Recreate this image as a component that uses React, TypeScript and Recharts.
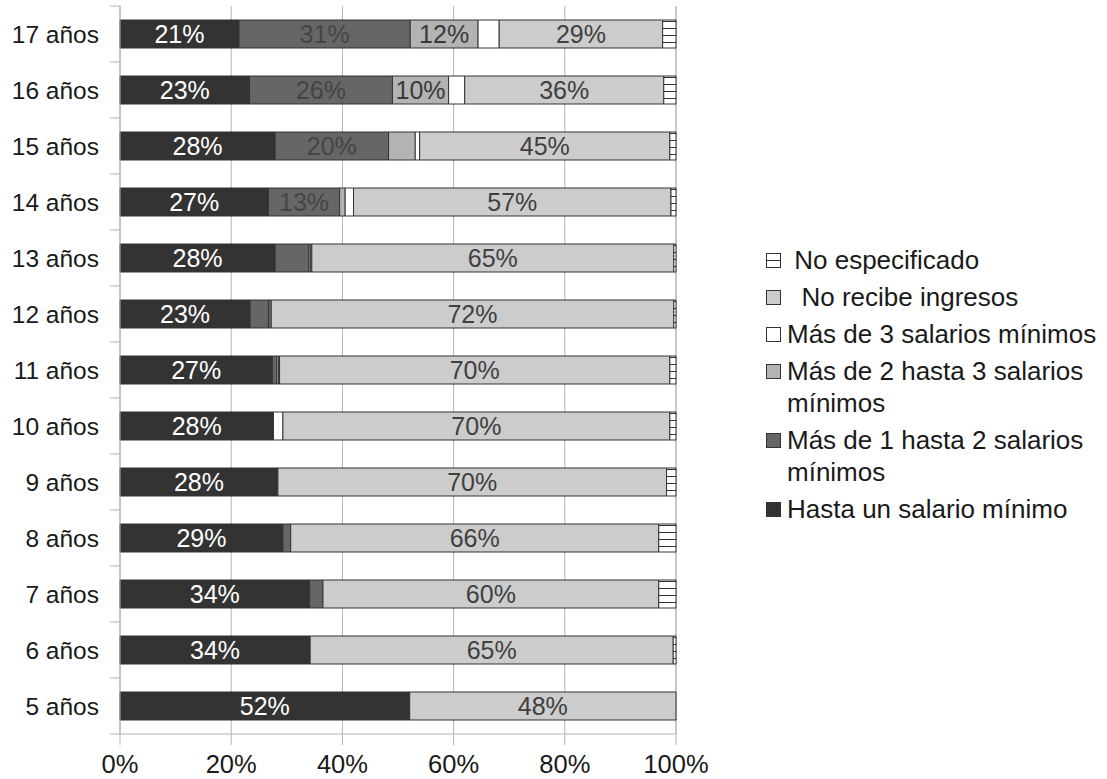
import React from 'react';
import { BarChart, Bar, XAxis, YAxis, CartesianGrid, Legend, LabelList } from 'recharts';

// Age groups, top row first
const ages = [
  '17 años', '16 años', '15 años', '14 años', '13 años', '12 años', '11 años',
  '10 años', '9 años', '8 años', '7 años', '6 años', '5 años',
];

// Share of each income bracket (%) per age group
const hastaUno = [21.4, 23.3, 27.9, 26.7, 27.9, 23.4, 27.4, 27.6, 28.4, 29.3, 34.1, 34.2, 52.1];
const deUnoADos = [30.8, 25.7, 20.4, 12.8, 6.1, 3.3, 0.8, 0, 0, 1.4, 2.4, 0, 0];
const deDosATres = [12.2, 10.1, 4.8, 1.0, 0.3, 0.3, 0.3, 0, 0, 0, 0, 0, 0];
const masDeTres = [3.8, 2.9, 0.8, 1.5, 0.2, 0.2, 0.2, 1.7, 0, 0, 0, 0, 0];
const noRecibe = [29.4, 35.8, 45.0, 57.1, 65.1, 72.4, 70.2, 69.6, 69.9, 66.2, 60.4, 65.3, 47.9];
const noEspecificado = [2.4, 2.2, 1.1, 0.9, 0.4, 0.4, 1.1, 1.1, 1.7, 3.1, 3.1, 0.5, 0];

const xTicks = [0, 20, 40, 60, 80, 100];

const FONT = '"Liberation Sans", Arial, sans-serif';
const GRID = '#b3b3b3';
const TEXT = '#1a1a1a';
const HATCH_ID = 'rayado';

const WIDTH = 1107;
const HEIGHT = 779;
const MARGIN = { top: 6, right: 431, bottom: 0, left: 0 };
const Y_AXIS_WIDTH = 120;
const X_AXIS_HEIGHT = 45;
const BAND = (HEIGHT - MARGIN.top - MARGIN.bottom - X_AXIS_HEIGHT) / ages.length;

const SERIES = [
  { key: 'hastaUno', name: 'Hasta un salario mínimo', values: hastaUno, fill: '#333333', labelColor: '#ffffff' },
  { key: 'deUnoADos', name: 'Más de 1 hasta 2 salarios mínimos', values: deUnoADos, fill: '#666666', labelColor: '#454545' },
  { key: 'deDosATres', name: 'Más de 2 hasta 3 salarios mínimos', values: deDosATres, fill: '#b3b3b3', labelColor: '#3a3a3a' },
  { key: 'masDeTres', name: 'Más de 3 salarios mínimos', values: masDeTres, fill: '#ffffff', labelColor: '#3a3a3a' },
  { key: 'noRecibe', name: '  No recibe ingresos', values: noRecibe, fill: '#cccccc', labelColor: '#404040' },
  { key: 'noEspecificado', name: ' No especificado', values: noEspecificado, fill: `url(#${HATCH_ID})`, labelColor: '#3a3a3a' },
];

const data = ages.map((edad, i) => {
  const row: Record<string, string | number> = { edad };
  SERIES.forEach((s) => {
    row[s.key] = s.values[i];
  });
  return row;
});

// Percentage printed in the middle of wide enough segments
const makeLabel = (color: string) => (props: any) => {
  const { x, y, width, height, value } = props;
  if (value == null || Number(value) < 8) return null;
  return (
    <text
      x={Number(x) + Number(width) / 2}
      y={Number(y) + Number(height) / 2}
      dy="0.36em"
      textAnchor="middle"
      fill={color}
      fontSize={25}
      fontFamily={FONT}
    >
      {`${Math.round(Number(value))}%`}
    </text>
  );
};

const TICK_GAP = 21;

// Category label plus the short separator marks between rows
const AgeTick = (props: any) => {
  const { x, y, payload, index } = props;
  const axisX = x + TICK_GAP;
  return (
    <g>
      <text x={x} y={y} dy="0.35em" textAnchor="end" fontSize={24.5} fill={TEXT} fontFamily={FONT}>
        {payload.value}
      </text>
      <line x1={axisX - 10} x2={axisX} y1={y + BAND / 2} y2={y + BAND / 2} stroke={GRID} />
      {index === 0 && (
        <line x1={axisX - 10} x2={axisX} y1={y - BAND / 2} y2={y - BAND / 2} stroke={GRID} />
      )}
    </g>
  );
};

const Marker = ({ color }: { color: string }) => {
  const hatched = color.startsWith('url(');
  return (
    <svg width={15} height={15} style={{ flex: '0 0 auto', marginTop: 9, marginRight: 6 }}>
      <rect x={0.5} y={0.5} width={14} height={14} fill={hatched ? '#ffffff' : color} stroke="#333333" />
      {hatched && <line x1={0.5} x2={14.5} y1={7.5} y2={7.5} stroke="#333333" />}
    </svg>
  );
};

// Legend lists the brackets in reverse stacking order
const seriesOrder = (name: string) => SERIES.findIndex((s) => s.name === name);

const renderLegend = (props: any) => {
  const items = [...(props.payload || [])].sort(
    (a: any, b: any) => seriesOrder(b.value) - seriesOrder(a.value),
  );
  return (
    <div style={{ fontFamily: FONT, fontSize: 26, color: TEXT, lineHeight: '32px' }}>
      {items.map((entry: any) => (
        <div key={entry.value} style={{ display: 'flex', alignItems: 'flex-start', marginBottom: 5 }}>
          <Marker color={entry.color} />
          <span style={{ whiteSpace: 'pre-wrap', width: 318 }}>{entry.value}</span>
        </div>
      ))}
    </div>
  );
};

export default function App() {
  return (
    <div style={{ position: 'absolute', left: 0, top: 0, width: WIDTH, height: HEIGHT, background: '#ffffff' }}>
      <BarChart
        width={WIDTH}
        height={HEIGHT}
        data={data}
        layout="vertical"
        margin={MARGIN}
        barCategoryGap="25%"
      >
        <defs>
          <pattern id={HATCH_ID} patternUnits="userSpaceOnUse" width={8} height={7}>
            <rect x={0} y={0} width={8} height={7} fill="#ffffff" />
            <line x1={0} x2={8} y1={0.5} y2={0.5} stroke="#333333" strokeWidth={1} />
          </pattern>
        </defs>
        <CartesianGrid horizontal={false} stroke={GRID} />
        <XAxis
          type="number"
          domain={[0, 100]}
          ticks={xTicks}
          tickFormatter={(v: number) => `${v}%`}
          height={X_AXIS_HEIGHT}
          axisLine={{ stroke: GRID }}
          tickLine={{ stroke: GRID }}
          tickSize={11}
          tickMargin={10}
          tick={{ fontSize: 25.5, fill: TEXT, fontFamily: FONT }}
          interval={0}
        />
        <YAxis
          type="category"
          dataKey="edad"
          width={Y_AXIS_WIDTH}
          axisLine={{ stroke: GRID }}
          tickLine={false}
          tickSize={0}
          tickMargin={TICK_GAP}
          tick={<AgeTick />}
          interval={0}
        />
        <Legend
          layout="vertical"
          align="center"
          verticalAlign="middle"
          content={renderLegend}
          wrapperStyle={{ left: 766, top: 244, width: 341 }}
        />
        {SERIES.map((s) => (
          <Bar
            key={s.key}
            dataKey={s.key}
            name={s.name}
            stackId="ingresos"
            fill={s.fill}
            stroke="#333333"
            strokeWidth={1}
            isAnimationActive={false}
          >
            <LabelList dataKey={s.key} content={makeLabel(s.labelColor)} />
          </Bar>
        ))}
      </BarChart>
    </div>
  );
}
